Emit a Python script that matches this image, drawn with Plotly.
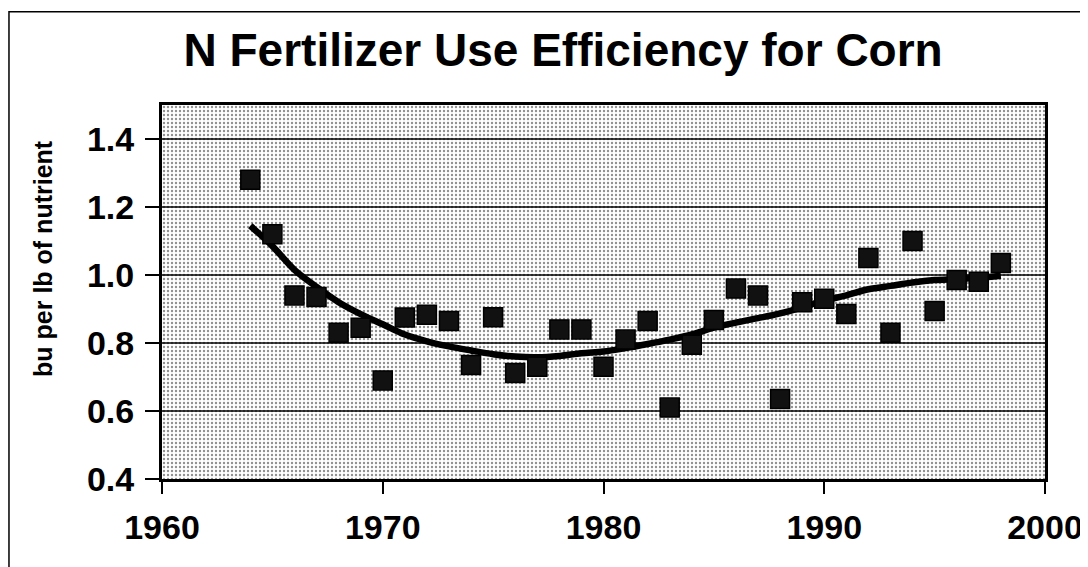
import plotly.graph_objects as go

# observed efficiency, bu per lb of N
years = list(range(1964, 1999))
efficiency = [1.28, 1.12, 0.94, 0.935, 0.83, 0.845, 0.69, 0.875, 0.883, 0.865,
              0.735, 0.876, 0.712, 0.73, 0.84, 0.84, 0.73, 0.81, 0.865, 0.61,
              0.795, 0.868, 0.96, 0.94, 0.635, 0.92, 0.93, 0.885, 1.05, 0.83,
              1.10, 0.894, 0.985, 0.98, 1.035]

# smoothed trend
trend = [1.145, 1.085, 1.015, 0.965, 0.92, 0.885, 0.855, 0.825, 0.805, 0.79,
         0.778, 0.767, 0.76, 0.758, 0.762, 0.77, 0.775, 0.785, 0.797, 0.81,
         0.825, 0.845, 0.86, 0.873, 0.887, 0.905, 0.925, 0.94, 0.958, 0.968,
         0.978, 0.985, 0.988, 0.992, 0.998]

x_range = [1960, 2000]
y_range = [0.4, 1.5]
y_ticks = [0.4, 0.6, 0.8, 1.0, 1.2, 1.4]
y_tick_text = ["0.4", "0.6", "0.8", "1.0", "1.2", "1.4"]
x_ticks = [1960, 1970, 1980, 1990, 2000]

font_family = "Liberation Sans, Arial, sans-serif"

fig = go.Figure()

# dotted plot background
fig.add_trace(go.Scatter(
    x=[x_range[0], x_range[1], x_range[1], x_range[0], x_range[0]],
    y=[y_range[0], y_range[0], y_range[1], y_range[1], y_range[0]],
    mode="none",
    fill="toself",
    fillcolor="white",
    fillpattern=dict(shape=".", size=4, solidity=0.28, fgcolor="#222", bgcolor="white"),
    hoverinfo="skip",
    showlegend=False,
))

# horizontal gridlines over the dots
gx, gy = [], []
for t in y_ticks[1:]:
    gx += [x_range[0], x_range[1], None]
    gy += [t, t, None]
fig.add_trace(go.Scatter(
    x=gx, y=gy, mode="lines",
    line=dict(color="black", width=1.6),
    hoverinfo="skip", showlegend=False,
))

fig.add_trace(go.Scatter(
    x=years, y=trend,
    mode="lines",
    line=dict(color="black", width=6.5, shape="spline"),
    showlegend=False,
))

fig.add_trace(go.Scatter(
    x=years, y=efficiency,
    mode="markers",
    marker=dict(symbol="square", size=19, color="#111",
                line=dict(color="black", width=1.5)),
    showlegend=False,
))

# outer chart frame
fig.add_shape(type="rect", xref="paper", yref="paper",
              x0=-0.1733, x1=1.045, y0=-0.4, y1=1.249,
              line=dict(color="black", width=1.5))

# y-axis title sits a bit above the middle of the plot in the original
fig.add_annotation(
    text="bu per lb of nutrient", textangle=-90,
    xref="paper", yref="paper", x=-0.1348, y=0.591,
    xanchor="center", yanchor="middle", showarrow=False,
    font=dict(family=font_family, size=25, color="black", weight="bold"),
)

fig.update_xaxes(
    range=x_range, tickvals=x_ticks, automargin=False,
    showgrid=False, zeroline=False,
    showline=True, mirror=True, linecolor="black", linewidth=3,
    ticks="outside", ticklen=12, tickwidth=2, tickcolor="black",
    ticklabelstandoff=4,
    tickfont=dict(family=font_family, size=34, color="black", weight="bold"),
)
fig.update_yaxes(
    range=y_range, tickvals=y_ticks, ticktext=y_tick_text, automargin=False,
    showgrid=False, zeroline=False,
    showline=True, mirror=True, linecolor="black", linewidth=3,
    ticks="outside", ticklen=14, tickwidth=2, tickcolor="black",
    ticklabelstandoff=4,
    tickfont=dict(family=font_family, size=34, color="black", weight="bold"),
)

# page body adds an 8px margin, so the figure is sized to fit inside the window
fig.update_layout(
    width=1080, height=559,
    margin=dict(l=154, r=43, t=97, b=88),
    paper_bgcolor="white",
    plot_bgcolor="white",
    title=dict(text="N Fertilizer Use Efficiency for Corn",
               x=0.514, xref="container", xanchor="center",
               y=0.925, yref="container", yanchor="middle",
               font=dict(family=font_family, size=46, color="black", weight="bold")),
)

fig.write_html("out.html")
